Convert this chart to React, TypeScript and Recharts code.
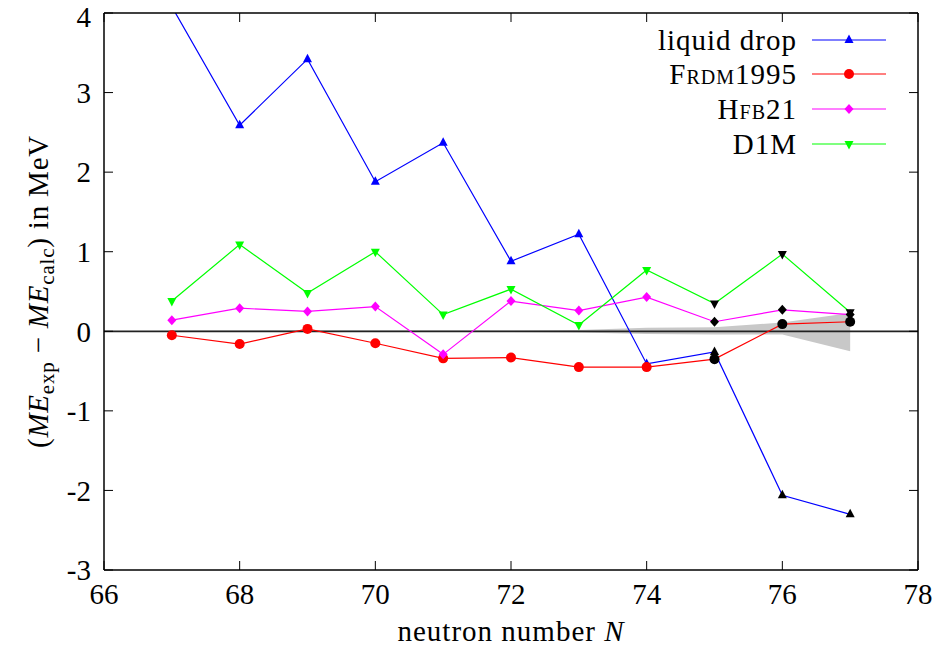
import { ComposedChart, Line, Area, XAxis, YAxis, ReferenceLine } from 'recharts';

// neutron number N and deviation ME_exp - ME_calc (MeV)
const neutronN = [67, 68, 69, 70, 71, 72, 73, 74, 75, 76, 77];
const liquidDrop = [4.08, 2.59, 3.42, 1.88, 2.37, 0.88, 1.22, -0.41, -0.26, -2.06, -2.3];
const frdm1995 = [-0.05, -0.16, 0.03, -0.15, -0.34, -0.33, -0.45, -0.45, -0.35, 0.09, 0.12];
const hfb21 = [0.14, 0.29, 0.25, 0.31, -0.29, 0.38, 0.26, 0.43, 0.12, 0.27, 0.21];
const d1m = [0.38, 1.09, 0.48, 1.0, 0.21, 0.53, 0.08, 0.77, 0.35, 0.97, 0.24];
// experimental uncertainty band
const bandLow = [-0.01, -0.01, -0.01, -0.01, -0.01, -0.01, -0.015, -0.035, -0.04, -0.04, -0.25];
const bandHigh = [0.01, 0.01, 0.01, 0.01, 0.01, 0.01, 0.015, 0.045, 0.05, 0.11, 0.23];
// from this N on the masses are extrapolated (black symbols)
const extrapolatedFrom = 75;

const xTicks = [66, 68, 70, 72, 74, 76, 78];
const yTicks = [-3, -2, -1, 0, 1, 2, 3, 4];

const FONT = 'Liberation Serif';
const FS = 29;

const series = [
  { key: 'liquid', label: 'liquid drop', color: '#0000ff', shape: 'up', smallCaps: false },
  { key: 'frdm', label: 'Frdm1995', color: '#ff0000', shape: 'circle', smallCaps: true },
  { key: 'hfb', label: 'Hfb21', color: '#ff00ff', shape: 'diamond', smallCaps: true },
  { key: 'd1m', label: 'D1M', color: '#00ff00', shape: 'down', smallCaps: false },
];

const data = neutronN.map((n, i) => ({
  N: n,
  liquid: liquidDrop[i],
  frdm: frdm1995[i],
  hfb: hfb21[i],
  d1m: d1m[i],
  band: [bandLow[i], bandHigh[i]],
}));

function Marker({ cx, cy, shape, fill }: any) {
  if (cx == null || cy == null) return null;
  if (shape === 'circle') return <circle cx={cx} cy={cy} r={5} fill={fill} />;
  if (shape === 'up')
    return <polygon points={`${cx},${cy - 5.5} ${cx + 4.5},${cy + 3} ${cx - 4.5},${cy + 3}`} fill={fill} />;
  if (shape === 'down')
    return <polygon points={`${cx},${cy + 5.5} ${cx + 4.5},${cy - 3} ${cx - 4.5},${cy - 3}`} fill={fill} />;
  return <polygon points={`${cx},${cy - 5} ${cx + 4.5},${cy} ${cx},${cy + 5} ${cx - 4.5},${cy}`} fill={fill} />;
}

const makeDot = (shape: string, color: string) => (props: any) => (
  <Marker
    key={`dot-${shape}-${props.index}`}
    cx={props.cx}
    cy={props.cy}
    shape={shape}
    fill={props.payload && props.payload.N >= extrapolatedFrom ? '#000000' : color}
  />
);

// mirrored axes only draw their inward tick marks
const NoTick = () => <g />;

const XLabel = ({ viewBox }: any) => (
  <text
    x={viewBox.x + viewBox.width / 2}
    y={viewBox.y + 71}
    textAnchor="middle"
    fontFamily={FONT}
    fontSize={FS}
    letterSpacing={1}
    fill="#000"
  >
    neutron number <tspan fontStyle="italic">N</tspan>
  </text>
);

const YLabel = ({ viewBox }: any) => {
  const cx = 48;
  const cy = viewBox.y + viewBox.height / 2;
  const sub = 21;
  return (
    <text
      x={cx}
      y={cy}
      transform={`rotate(-90, ${cx}, ${cy})`}
      textAnchor="middle"
      fontFamily={FONT}
      fontSize={FS}
      letterSpacing={0.8}
      fill="#000"
    >
      (<tspan fontStyle="italic">ME</tspan>
      <tspan fontSize={sub} dy={6}>exp</tspan>
      <tspan dy={-6}> − </tspan>
      <tspan fontStyle="italic">ME</tspan>
      <tspan fontSize={sub} dy={6}>calc</tspan>
      <tspan dy={-6}>) in MeV</tspan>
    </text>
  );
};

function LegendBox() {
  const rows = [40, 74, 109, 144];
  return (
    <svg
      width={938}
      height={650}
      style={{ position: 'absolute', left: 0, top: 0, pointerEvents: 'none' }}
    >
      {series.map((s, i) => (
        <g key={s.key}>
          <text
            x={797}
            y={rows[i]}
            dy="0.35em"
            textAnchor="end"
            fontFamily={FONT}
            fontSize={FS}
            letterSpacing={1}
            style={{ fontVariant: s.smallCaps ? 'small-caps' : 'normal' }}
          >
            {s.label}
          </text>
          <line x1={812} x2={886} y1={rows[i]} y2={rows[i]} stroke={s.color} strokeWidth={1.2} />
          <Marker cx={849} cy={rows[i]} shape={s.shape} fill={s.color} />
        </g>
      ))}
    </svg>
  );
}

export default function App() {
  const tickStyle = { fontFamily: FONT, fontSize: FS, fill: '#000' };
  return (
    <div style={{ position: 'absolute', left: 0, top: 0, width: 938, height: 650, background: '#fff' }}>
      <ComposedChart
        width={938}
        height={650}
        data={data}
        margin={{ top: 13, right: 20, bottom: 0, left: 0 }}
      >
        <XAxis
          xAxisId="b"
          dataKey="N"
          type="number"
          domain={[66, 78]}
          ticks={xTicks}
          allowDataOverflow
          height={80}
          tickLine={false}
          tickSize={0}
          tickMargin={13}
          tick={tickStyle}
          axisLine={{ stroke: '#000', strokeWidth: 1.5 }}
          label={<XLabel />}
        />
        <XAxis
          xAxisId="bm"
          dataKey="N"
          type="number"
          orientation="bottom"
          mirror
          domain={[66, 78]}
          allowDataOverflow
          ticks={xTicks}
          tick={<NoTick />}
          tickSize={9}
          tickLine={{ stroke: '#000', strokeWidth: 1 }}
          axisLine={false}
        />
        <XAxis
          xAxisId="t"
          dataKey="N"
          type="number"
          orientation="top"
          mirror
          domain={[66, 78]}
          allowDataOverflow
          ticks={xTicks}
          tick={<NoTick />}
          tickSize={9}
          tickLine={{ stroke: '#000', strokeWidth: 1 }}
          axisLine={{ stroke: '#000', strokeWidth: 1.5 }}
        />
        <YAxis
          yAxisId="l"
          type="number"
          domain={[-3, 4]}
          ticks={yTicks}
          allowDataOverflow
          width={104}
          tickLine={false}
          tickSize={0}
          tickMargin={13}
          tick={tickStyle}
          axisLine={{ stroke: '#000', strokeWidth: 1.5 }}
          label={<YLabel />}
        />
        <YAxis
          yAxisId="lm"
          type="number"
          orientation="left"
          mirror
          domain={[-3, 4]}
          allowDataOverflow
          ticks={yTicks}
          tick={<NoTick />}
          tickSize={9}
          tickLine={{ stroke: '#000', strokeWidth: 1 }}
          axisLine={false}
        />
        <YAxis
          yAxisId="r"
          type="number"
          orientation="right"
          mirror
          domain={[-3, 4]}
          allowDataOverflow
          ticks={yTicks}
          tick={<NoTick />}
          tickSize={9}
          tickLine={{ stroke: '#000', strokeWidth: 1 }}
          axisLine={{ stroke: '#000', strokeWidth: 1.5 }}
        />
        <Area
          xAxisId="b"
          yAxisId="l"
          type="linear"
          dataKey="band"
          stroke="none"
          fill="#c8c8c8"
          fillOpacity={1}
          isAnimationActive={false}
          activeDot={false}
        />
        <ReferenceLine xAxisId="b" yAxisId="l" y={0} stroke="#222" strokeWidth={1.8} />
        {series.map((s) => (
          <Line
            key={s.key}
            xAxisId="b"
            yAxisId="l"
            type="linear"
            dataKey={s.key}
            stroke={s.color}
            strokeWidth={1.2}
            dot={makeDot(s.shape, s.color)}
            activeDot={false}
            isAnimationActive={false}
          />
        ))}
      </ComposedChart>
      <LegendBox />
    </div>
  );
}
